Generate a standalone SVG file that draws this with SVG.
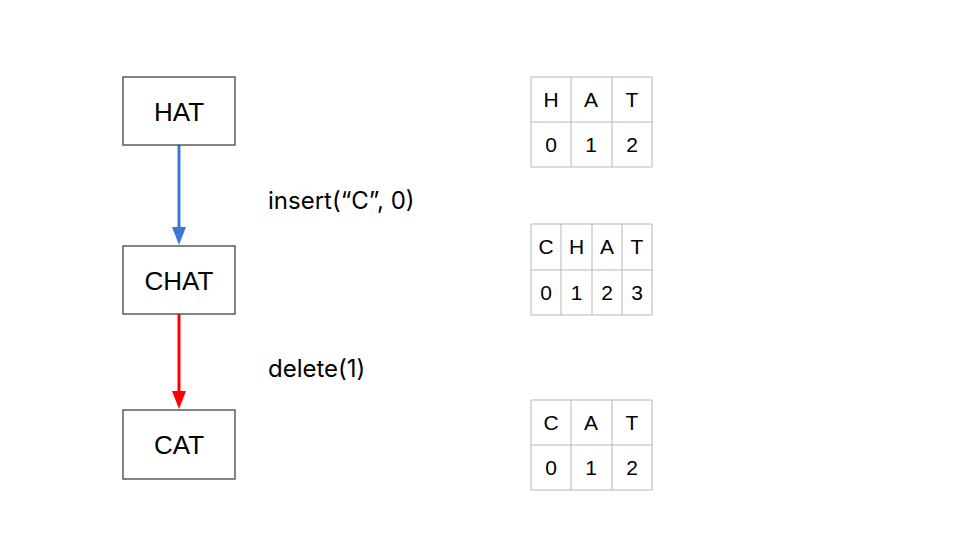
<svg xmlns="http://www.w3.org/2000/svg" width="960" height="540" viewBox="0 0 960 540">
<style>
.node rect{fill:#fff;stroke:#434343;stroke-width:1.3}
.node text{font-family:"Liberation Sans",Arial,sans-serif;font-size:26px;fill:#000;text-anchor:middle}
.lbl{font-family:Inter,"Open Sans",sans-serif;font-size:24px;fill:#000}
.grid line{stroke:#b7b7b7;stroke-width:1}
.grid text{font-family:"Liberation Sans",Arial,sans-serif;font-size:21px;fill:#000;text-anchor:middle}
</style>
<rect width="960" height="540" fill="#fff"/>
<g id="connectors">
<line x1="179" y1="145" x2="179" y2="230" stroke="#3c78d8" stroke-width="3"/>
<path d="M172,227L186,227L179,245Z" fill="#3c78d8"/>
<line x1="179" y1="314" x2="179" y2="394" stroke="#ff0000" stroke-width="3"/>
<path d="M172,391L186,391L179,409Z" fill="#ff0000"/>
</g>
<g id="n-hat" class="node"><rect x="123" y="77" width="112" height="68"/><text x="179" y="121">HAT</text></g>
<g id="n-chat" class="node"><rect x="123" y="246" width="112" height="68"/><text x="179" y="290">CHAT</text></g>
<g id="n-cat" class="node"><rect x="123" y="410" width="112" height="69"/><text x="179" y="454">CAT</text></g>
<text class="lbl" x="268" y="209">insert(“C”, 0)</text>
<text class="lbl" x="268" y="377">delete(1)</text>
<g id="t-hat" class="grid">
<line x1="531" y1="77" x2="652" y2="77"/><line x1="531" y1="122" x2="652" y2="122"/><line x1="531" y1="167" x2="652" y2="167"/>
<line x1="531" y1="77" x2="531" y2="167"/><line x1="571" y1="77" x2="571" y2="167"/><line x1="612" y1="77" x2="612" y2="167"/><line x1="652" y1="77" x2="652" y2="167"/>
<text x="551" y="107">H</text><text x="591" y="107">A</text><text x="632" y="107">T</text>
<text x="551" y="152">0</text><text x="591" y="152">1</text><text x="632" y="152">2</text>
</g>
<g id="t-chat" class="grid">
<line x1="531" y1="224" x2="652" y2="224"/><line x1="531" y1="270" x2="652" y2="270"/><line x1="531" y1="315" x2="652" y2="315"/>
<line x1="531" y1="224" x2="531" y2="315"/><line x1="561" y1="224" x2="561" y2="315"/><line x1="592" y1="224" x2="592" y2="315"/><line x1="622" y1="224" x2="622" y2="315"/><line x1="652" y1="224" x2="652" y2="315"/>
<text x="546" y="254">C</text><text x="576.5" y="254">H</text><text x="607" y="254">A</text><text x="637" y="254">T</text>
<text x="546" y="300">0</text><text x="576.5" y="300">1</text><text x="607" y="300">2</text><text x="637" y="300">3</text>
</g>
<g id="t-cat" class="grid">
<line x1="531" y1="400" x2="652" y2="400"/><line x1="531" y1="445" x2="652" y2="445"/><line x1="531" y1="490" x2="652" y2="490"/>
<line x1="531" y1="400" x2="531" y2="490"/><line x1="571" y1="400" x2="571" y2="490"/><line x1="612" y1="400" x2="612" y2="490"/><line x1="652" y1="400" x2="652" y2="490"/>
<text x="551" y="430">C</text><text x="591" y="430">A</text><text x="632" y="430">T</text>
<text x="551" y="475">0</text><text x="591" y="475">1</text><text x="632" y="475">2</text>
</g>
</svg>
